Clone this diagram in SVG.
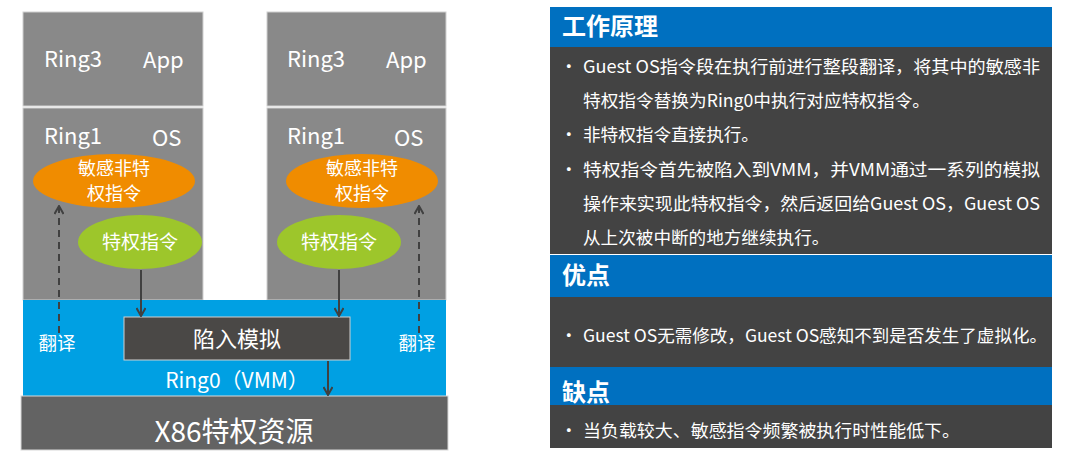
<svg xmlns="http://www.w3.org/2000/svg" width="1080" height="456" viewBox="0 0 1080 456">
<style>
text{font-family:"Noto Sans CJK SC","Noto Sans",sans-serif;fill:#fff}
.box{fill:#898989;stroke:#d0d0d0;stroke-width:1}
.lbl{font-size:22px}
.ell{font-size:19px;text-anchor:middle}
.ell2{font-size:18px;text-anchor:middle}
.hd{font-size:24px;font-weight:bold}
.bt{font-size:17.6px}
.ln{stroke:#404040;stroke-width:2;fill:none}
.dash{stroke:#404040;stroke-width:2;fill:none;stroke-dasharray:7 5}
</style>
<defs>
<marker id="ah" viewBox="0 0 10 10" refX="9" refY="5" markerWidth="10" markerHeight="10" markerUnits="userSpaceOnUse" orient="auto">
<polyline points="1,0.5 9,5 1,9.5" fill="none" stroke="#404040" stroke-width="2"/>
</marker>
</defs>
<rect width="1080" height="456" fill="#fff"/>
<g id="left-ring3"><rect class="box" x="23" y="12" width="180" height="94"/><text class="lbl" x="44" y="67">Ring3</text><text class="lbl" x="143" y="68">App</text></g>
<g id="left-ring1"><rect class="box" x="23" y="108" width="180" height="192"/><text class="lbl" x="44" y="144">Ring1</text><text class="lbl" x="152" y="146">OS</text></g>
<g id="right-ring3"><rect class="box" x="267" y="12" width="179" height="94"/><text class="lbl" x="287" y="67">Ring3</text><text class="lbl" x="386" y="68">App</text></g>
<g id="right-ring1"><rect class="box" x="267" y="108" width="179" height="192"/><text class="lbl" x="287" y="144">Ring1</text><text class="lbl" x="394" y="146">OS</text></g>
<g id="ring0"><rect x="23" y="300" width="423" height="96" fill="#00a0e3"/><text x="237" y="388" text-anchor="middle" style="font-size:21px">Ring0（VMM）</text>
<text x="57" y="350" text-anchor="middle" style="font-size:18.5px">翻译</text><text x="417" y="350" text-anchor="middle" style="font-size:18.5px">翻译</text></g>
<g id="x86"><rect x="21" y="396" width="427" height="54" fill="#636363" stroke="#d8d8d8" stroke-width="1"/><text x="234" y="442" text-anchor="middle" style="font-size:28px">X86特权资源</text></g>
<g id="left-sensitive"><ellipse cx="114" cy="181" rx="81" ry="27" fill="#f08c00"/><text class="ell2" x="114" y="175">敏感非特</text><text class="ell2" x="114" y="200">权指令</text></g>
<g id="right-sensitive"><ellipse cx="362" cy="181" rx="76" ry="27" fill="#f08c00"/><text class="ell2" x="362" y="175">敏感非特</text><text class="ell2" x="362" y="200">权指令</text></g>
<g id="left-priv"><ellipse cx="140" cy="242" rx="62" ry="27" fill="#9dc62b"/><text class="ell" x="140" y="249">特权指令</text></g>
<g id="right-priv"><ellipse cx="339" cy="242" rx="62" ry="27" fill="#9dc62b"/><text class="ell" x="339" y="249">特权指令</text></g>
<g id="trap"><rect x="124" y="317" width="226" height="43" fill="#4a4846" stroke="#d0d0d0" stroke-width="1"/><text x="237" y="347" text-anchor="middle" style="font-size:22px">陷入模拟</text></g>
<g id="connectors">
<line class="ln" x1="141" y1="270" x2="141" y2="316" marker-end="url(#ah)"/>
<line class="ln" x1="339" y1="270" x2="339" y2="316" marker-end="url(#ah)"/>
<line class="ln" x1="328" y1="361" x2="328" y2="395" marker-end="url(#ah)"/>
<line class="dash" x1="59" y1="333" x2="59" y2="206" marker-end="url(#ah)"/>
<line class="dash" x1="419" y1="333" x2="419" y2="206" marker-end="url(#ah)"/>
</g>
<g id="panel-principle">
<rect x="550" y="7" width="502" height="40" fill="#0070c0"/>
<rect x="550" y="47" width="502" height="207" fill="#434343"/>
<text class="hd" x="562" y="35">工作原理</text>
<text class="bt" x="560" y="73">•</text>
<text class="bt" x="583" y="73" textLength="457" lengthAdjust="spacingAndGlyphs">Guest OS指令段在执行前进行整段翻译，将其中的敏感非</text>
<text class="bt" x="583" y="107" textLength="347" lengthAdjust="spacingAndGlyphs">特权指令替换为Ring0中执行对应特权指令。</text>
<text class="bt" x="560" y="141">•</text>
<text class="bt" x="583" y="141">非特权指令直接执行。</text>
<text class="bt" x="560" y="176">•</text>
<text class="bt" x="583" y="176" textLength="457" lengthAdjust="spacingAndGlyphs">特权指令首先被陷入到VMM，并VMM通过一系列的模拟</text>
<text class="bt" x="583" y="210" textLength="457" lengthAdjust="spacingAndGlyphs">操作来实现此特权指令，然后返回给Guest OS，Guest OS</text>
<text class="bt" x="583" y="244">从上次被中断的地方继续执行。</text>
</g>
<g id="panel-pros">
<rect x="550" y="255" width="502" height="42" fill="#0070c0"/>
<rect x="550" y="297" width="502" height="70" fill="#434343"/>
<text class="hd" x="562" y="284">优点</text>
<text class="bt" x="560" y="342">•</text>
<text class="bt" x="583" y="342" textLength="464" lengthAdjust="spacingAndGlyphs">Guest OS无需修改，Guest OS感知不到是否发生了虚拟化。</text>
</g>
<g id="panel-cons">
<rect x="550" y="367" width="502" height="38" fill="#0070c0"/>
<rect x="550" y="405" width="502" height="43" fill="#434343"/>
<text class="hd" x="562" y="401">缺点</text>
<text class="bt" x="560" y="437">•</text>
<text class="bt" x="583" y="437" textLength="377" lengthAdjust="spacingAndGlyphs">当负载较大、敏感指令频繁被执行时性能低下。</text>
</g>
</svg>
